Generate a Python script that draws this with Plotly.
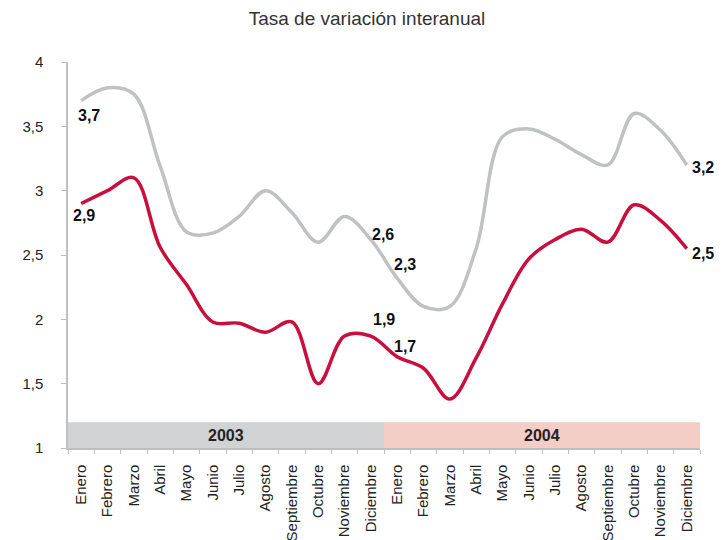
import plotly.graph_objects as go

months = ["Enero", "Febrero", "Marzo", "Abril", "Mayo", "Junio", "Julio", "Agosto",
          "Septiembre", "Octubre", "Noviembre", "Diciembre"]
years = ["2003", "2004"]
tick_labels = months + months

gray_values = [3.7, 3.8, 3.75, 3.19, 2.68, 2.67, 2.8, 3.0, 2.83, 2.6, 2.8, 2.62,
               2.32, 2.1, 2.1, 2.55, 3.42, 3.48, 3.4, 3.28, 3.2, 3.6, 3.47, 3.2]
red_values = [2.9, 3.0, 3.1, 2.56, 2.27, 1.98, 1.97, 1.9, 1.98, 1.5, 1.87, 1.87,
              1.71, 1.62, 1.38, 1.7, 2.12, 2.47, 2.62, 2.7, 2.6, 2.89, 2.77, 2.55]

y_ticks = [1, 1.5, 2, 2.5, 3, 3.5, 4]
y_tick_text = ["1", "1,5", "2", "2,5", "3", "3,5", "4"]

GRAY = "#c0c1c3"
RED = "#c8103e"
AXIS = "#bfbfbf"
TXT = "#222222"

# the page body adds an 8px offset; size the figure so the plot lands where the reference has it
W, H = 718, 532

x = list(range(len(tick_labels)))

fig = go.Figure()
fig.add_trace(go.Scatter(x=x, y=gray_values, mode="lines",
                         line=dict(color=GRAY, width=3.5, shape="spline", smoothing=1.0),
                         hoverinfo="skip", showlegend=False))
fig.add_trace(go.Scatter(x=x, y=red_values, mode="lines",
                         line=dict(color=RED, width=3.5, shape="spline", smoothing=1.0),
                         hoverinfo="skip", showlegend=False))

# year bands
band_colors = ["#d1d2d4", "#f4cdc6"]
for i, yr in enumerate(years):
    x0 = i * 12 - 0.5
    x1 = i * 12 + 11.5
    fig.add_shape(type="rect", xref="x", yref="y", x0=x0, x1=x1, y0=1.0, y1=1.2,
                  fillcolor=band_colors[i], line=dict(width=0), layer="below")
    fig.add_annotation(x=(x0 + x1) / 2, y=1.1, xref="x", yref="y", text="<b>%s</b>" % yr,
                       showarrow=False, font=dict(family="Liberation Sans, Arial",
                                                  size=16, color=TXT))

def fmt(v):
    return ("%.1f" % v).replace(".", ",")

label_font = dict(family="Liberation Sans, Arial", size=16, color="#111111")
# (series, index, xshift, yshift)
labels = [
    (gray_values, 0, 8, -15),
    (red_values, 0, 3, -12),
    (gray_values, 11, 12, 5),
    (gray_values, 12, 8, 14),
    (red_values, 11, 13, 17),
    (red_values, 12, 8, 10),
    (gray_values, 23, 16, -3),
    (red_values, 23, 16, -5),
]
for series, idx, xs, ys in labels:
    fig.add_annotation(x=idx, y=series[idx], xref="x", yref="y",
                       text="<b>%s</b>" % fmt(series[idx]), showarrow=False,
                       xshift=xs, yshift=ys, font=label_font)

fig.update_layout(
    width=W, height=H,
    margin=dict(l=60, r=26, t=54, b=92, autoexpand=False),
    paper_bgcolor="white", plot_bgcolor="white",
    title=dict(text="Tasa de variación interanual", x=0.5, xanchor="center",
               y=1 - 10 / H, yanchor="middle",
               font=dict(family="Liberation Sans, Arial", size=19, color="#333333")),
    font=dict(family="Liberation Sans, Arial", color=TXT),
)
fig.update_xaxes(
    range=[-0.5, 23.5], tickmode="array", tickvals=x, ticktext=tick_labels,
    tickangle=-90, ticks="", showgrid=False, zeroline=False, automargin=False,
    showline=True, linecolor=AXIS, linewidth=1.5,
    tickfont=dict(size=15, color=TXT), ticklabelstandoff=9,
    minor=dict(tick0=-0.5, dtick=1, ticks="outside", ticklen=4, tickcolor=AXIS, showgrid=False),
)
fig.update_yaxes(
    range=[1, 4], tickmode="array", tickvals=y_ticks, ticktext=y_tick_text,
    ticks="outside", ticklen=5, tickcolor=AXIS, showgrid=False, zeroline=False,
    automargin=False, showline=True, linecolor=AXIS, linewidth=1.5,
    tickfont=dict(size=15, color=TXT), ticklabelstandoff=15,
)

fig.write_html("out.html")
